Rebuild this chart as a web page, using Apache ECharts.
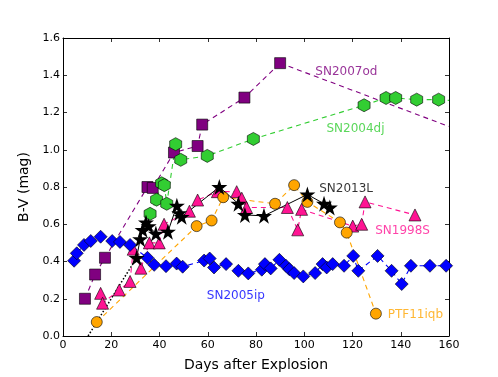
<!DOCTYPE html>
<html><head><meta charset="utf-8">
<script src="https://cdn.jsdelivr.net/npm/echarts@6/dist/echarts.min.js"></script>
<style>html,body{margin:0;padding:0;background:#fff}#c{width:498px;height:377px}</style>
</head><body><div id="c"></div>
<script>
// ---- data (days after explosion, B-V mag) ----
const sn2007od = [[9.1,0.20],[13.3,0.33],[17.4,0.42],[35,0.80],[37.2,0.795],[46,0.985],[55.8,1.02],[57.7,1.135],[75.2,1.28],[90,1.465]];
const sn2007odTail = [[90,1.465],[160,1.125]];
const sn2004dj = [[36.1,0.656],[38.8,0.732],[40.9,0.82],[42,0.81],[43,0.71],[46.7,1.03],[48.8,0.946],[59.8,0.967],[78.9,1.058],[124.8,1.239],[133.9,1.278],[137.9,1.278],[146.6,1.269],[155.7,1.269]];
const sn2004djTail = [[155.7,1.269],[160,1.265]];
const sn1998s = [[15.6,0.229],[16.4,0.176],[23.3,0.247],[27.8,0.293],[29.1,0.466],[32.3,0.364],[35.8,0.50],[39.9,0.50],[41.9,0.60],[52.4,0.67],[55.8,0.73],[64,0.775],[72,0.775],[74.1,0.74],[76.1,0.69],[93,0.69],[97.3,0.57],[98.9,0.68],[120.1,0.59],[123.8,0.60],[125.2,0.72],[145.9,0.65]];
const sn2005ip = [[4.6,0.404],[5.7,0.444],[8.7,0.489],[11.5,0.51],[15.6,0.533],[20.4,0.51],[23.6,0.505],[27.8,0.489],[35,0.42],[37.8,0.382],[42.7,0.375],[47.1,0.389],[49.6,0.372],[58.5,0.405],[60.8,0.416],[62.6,0.368],[67.6,0.386],[72.7,0.35],[76.8,0.336],[82.4,0.356],[83.7,0.386],[86.1,0.363],[89.7,0.409],[92.4,0.377],[93.8,0.359],[95.8,0.338],[99.6,0.32],[104.5,0.338],[107.6,0.386],[109.3,0.368],[111.8,0.386],[116.5,0.377],[120.3,0.43],[122.4,0.35],[130.4,0.43],[136.2,0.35],[140.4,0.279],[144.2,0.377],[152.1,0.377],[158.8,0.377]];
const ptf11iqb = [[14,0.075],[55.4,0.59],[61.6,0.62],[66.4,0.745],[87.9,0.71],[95.8,0.81],[101.3,0.72],[114.8,0.61],[117.6,0.555],[129.7,0.12]];
const sn2013l = [[30.5,0.42],[32,0.52],[33,0.57],[34.4,0.61],[35.5,0.59],[38.5,0.55],[43.5,0.56],[47.2,0.70],[48.2,0.66],[49.2,0.64],[64.8,0.80],[72.7,0.71],[75.4,0.65],[83.3,0.645],[101.3,0.76],[108.2,0.71],[110.6,0.69]];
const sn2013lFit = [[10.4,0.0],[30.5,0.42]];
const labelNames = ['SN2007od','SN2004dj','SN2013L','SN1998S','SN2005ip','PTF11iqb'];
const labelPos = [[104.6,1.418],[109.2,1.112],[106.2,0.79],[129.4,0.565],[59.6,0.215],[134.6,0.113]];
const xTicks = [0,20,40,60,80,100,120,140,160];
const yTicks = [0.0,0.2,0.4,0.6,0.8,1.0,1.2,1.4,1.6];

const colors = {'SN2007od':'#800080','SN2004dj':'#32cd32','SN2013L':'#000000','SN1998S':'#ff1493','SN2005ip':'#0000ff','PTF11iqb':'#ffa500'};
const HEX = 'path://M0,-1L0.866,-0.5L0.866,0.5L0,1L-0.866,0.5L-0.866,-0.5Z';
const STAR = 'path://M0,-1L0.2245,-0.309L0.951,-0.309L0.363,0.118L0.588,0.809L0,0.382L-0.588,0.809L-0.363,0.118L-0.951,-0.309L-0.2245,-0.309Z';
const FONT = 'DejaVu Sans';

function dashed(name, data, symbol, size, extra) {
  return Object.assign({
    type:'line', name, data, symbol, symbolSize:size,
    lineStyle:{color:colors[name], width:1.1, type:[5,4]},
    itemStyle:{color:colors[name], borderColor:'#000', borderWidth:0.6},
    emphasis:{disabled:true}, animation:false
  }, extra||{});
}
function tail(name, data) {
  return {type:'line', data, showSymbol:false, symbol:'none',
    lineStyle:{color:colors[name], width:1.1, type:[5,4]}, animation:false, emphasis:{disabled:true}};
}

const chart = echarts.init(document.getElementById('c'), null, {renderer:'canvas'});
const axisCommon = {
  axisLine:{show:true, onZero:false, lineStyle:{color:'#000', width:1}},
  axisTick:{show:true, inside:true, length:4, lineStyle:{color:'#000', width:0.8}},
  splitLine:{show:false}
};
chart.setOption({
  animation:false,
  backgroundColor:'#fff',
  textStyle:{fontFamily:FONT},
  grid:{left:63, top:38, right:49, bottom:38, containLabel:false},
  xAxis:[
    Object.assign({type:'value', min:0, max:160, interval:20, position:'bottom',
      name:'Days after Explosion', nameLocation:'middle', nameGap:22,
      nameTextStyle:{fontFamily:FONT, fontSize:14, color:'#000'},
      axisLabel:{fontFamily:FONT, fontSize:11, color:'#000', margin:4,
        formatter:v=>xTicks.includes(v)?String(v):''}}, axisCommon),
    Object.assign({type:'value', min:0, max:160, interval:20, position:'top', axisLabel:{show:false}}, axisCommon)
  ],
  yAxis:[
    Object.assign({type:'value', min:0, max:1.6, interval:0.2, position:'left',
      name:'B-V (mag)', nameLocation:'middle', nameGap:29,
      nameTextStyle:{fontFamily:FONT, fontSize:14, color:'#000'},
      axisLabel:{fontFamily:FONT, fontSize:11, color:'#000', margin:3,
        formatter:v=>v.toFixed(1)}}, axisCommon),
    Object.assign({type:'value', min:0, max:1.6, interval:0.2, position:'right', axisLabel:{show:false}}, axisCommon)
  ],
  series:[
    tail('SN2007od', sn2007odTail),
    dashed('SN2007od', sn2007od, 'rect', 11),
    tail('SN2004dj', sn2004djTail),
    dashed('SN2004dj', sn2004dj, HEX, [12,13]),
    dashed('SN1998S', sn1998s, 'triangle', 12),
    dashed('SN2005ip', sn2005ip, 'diamond', 13),
    dashed('PTF11iqb', ptf11iqb, 'circle', 11),
    {type:'line', data:sn2013lFit, symbol:'none', lineStyle:{color:'#000', width:1.5, type:[1.5,2]}, animation:false},
    {type:'line', name:'SN2013L', data:sn2013l, symbol:STAR, symbolSize:16,
      lineStyle:{color:'#000', width:1}, itemStyle:{color:'#000'}, emphasis:{disabled:true}, animation:false},
    {type:'scatter', symbolSize:0, silent:true, animation:false,
      data: labelNames.map((n,i)=>({value:labelPos[i], label:{show:true, formatter:n, position:'right', distance:0,
        color:colors[n], fontFamily:FONT, fontSize:12}}))}
  ]
});
</script></body></html>
